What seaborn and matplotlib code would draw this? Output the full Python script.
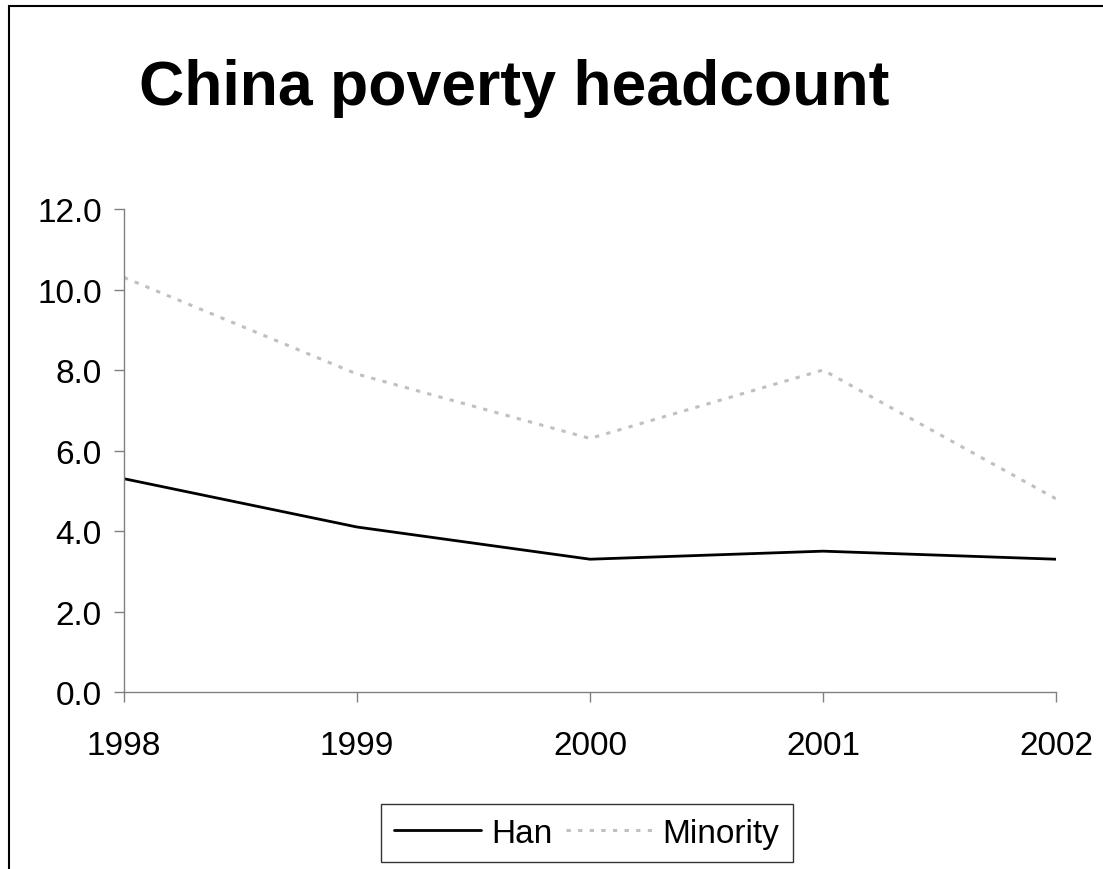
import matplotlib

matplotlib.use("Agg")

import matplotlib.pyplot as plt
import seaborn as sns
import pandas as pd
from matplotlib.patches import Rectangle

# values
YEARS = [1998, 1999, 2000, 2001, 2002]
HAN = [5.3, 4.1, 3.3, 3.5, 3.3]
MINORITY = [10.3, 7.9, 6.3, 8.0, 4.8]
Y_TICKS = [0.0, 2.0, 4.0, 6.0, 8.0, 10.0, 12.0]

sns.set_style("white")
plt.rcParams["font.family"] = ["Liberation Sans", "DejaVu Sans"]
plt.rcParams["text.color"] = "black"

df = pd.DataFrame(
    {
        "year": YEARS * 2,
        "value": HAN + MINORITY,
        "group": ["Han"] * len(YEARS) + ["Minority"] * len(YEARS),
    }
)

fig = plt.figure(figsize=(11.03, 8.7), dpi=100)
ax = fig.add_axes([0.1124, 0.2034, 0.845, 0.5552])

sns.lineplot(
    data=df[df["group"] == "Han"], x="year", y="value",
    color="black", linewidth=2.0, ax=ax, label="Han",
)
sns.lineplot(
    data=df[df["group"] == "Minority"], x="year", y="value",
    color="#c0c0c0", linewidth=2.2, linestyle=(0, (1.4, 2.4)), ax=ax, label="Minority",
)

ax.set_xlim(YEARS[0], YEARS[-1])
ax.set_ylim(Y_TICKS[0], Y_TICKS[-1])
ax.set_xticks(YEARS)
ax.set_yticks(Y_TICKS)
ax.set_yticklabels([f"{v:.1f}" for v in Y_TICKS])
ax.set_xlabel("")
ax.set_ylabel("")

for side in ["top", "right"]:
    ax.spines[side].set_visible(False)
for side in ["left", "bottom"]:
    ax.spines[side].set_color("#808080")
    ax.spines[side].set_linewidth(1.0)

ax.tick_params(axis="both", direction="out", length=7, width=1.0,
               color="#808080", labelsize=24, labelcolor="black")
ax.tick_params(axis="y", pad=9)
ax.tick_params(axis="x", pad=20)
ax.tick_params(axis="x", which="both", bottom=True)
ax.tick_params(axis="y", which="both", left=True)

fig.text(0.466, 1 - 105 / 870, "China poverty headcount", ha="center",
         va="baseline", fontsize=45, fontweight="bold", color="black")

handles, labels = ax.get_legend_handles_labels()
leg = ax.legend(
    handles, labels, loc="center", bbox_to_anchor=(0.532, 0.041),
    bbox_transform=fig.transFigure, ncol=2, fontsize=24, frameon=True,
    fancybox=False, edgecolor="black", handlelength=2.6, handletextpad=0.3,
    columnspacing=0.4, borderpad=0.4, borderaxespad=0.0,
)
leg.get_frame().set_linewidth(1.0)
for t in leg.get_texts():
    t.set_color("black")

# outer chart frame
fig.patches.append(Rectangle((9 / 1103, -0.05), 1.2, 1 - 7 / 870 + 0.05,
                             transform=fig.transFigure, fill=False,
                             edgecolor="black", linewidth=1.5))

fig.savefig("out.png", dpi=100)
plt.close("all")
